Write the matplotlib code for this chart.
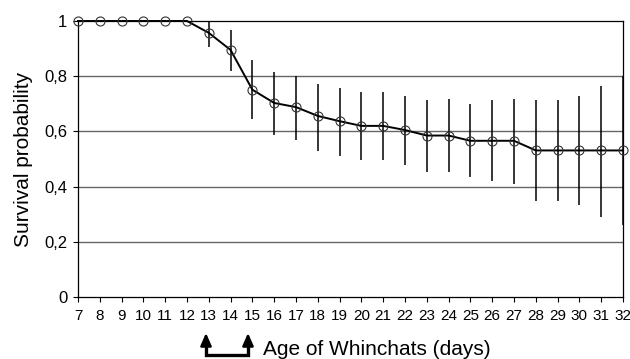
import matplotlib
matplotlib.use("Agg")
import matplotlib.pyplot as plt
from matplotlib.lines import Line2D

plt.rcParams['font.family'] = ['Liberation Sans', 'DejaVu Sans']

days = [7, 8, 9, 10, 11, 12, 13, 14, 15, 16, 17, 18, 19, 20, 21, 22, 23, 24, 25, 26, 27, 28, 29, 30, 31, 32]
survival = [1.0, 1.0, 1.0, 1.0, 1.0, 1.0, 0.957, 0.895, 0.751, 0.703, 0.688, 0.656, 0.637,
            0.620, 0.620, 0.605, 0.585, 0.585, 0.566, 0.566, 0.566, 0.531, 0.531, 0.531, 0.531, 0.531]
err_days = [13, 14, 15, 16, 17, 18, 19, 20, 21, 22, 23, 24, 25, 26, 27, 28, 29, 30, 31, 32]
upper = [1.0, 0.966, 0.859, 0.817, 0.799, 0.771, 0.757, 0.743, 0.743, 0.729, 0.712, 0.716,
         0.700, 0.712, 0.718, 0.714, 0.714, 0.729, 0.765, 0.799]
lower = [0.905, 0.82, 0.645, 0.588, 0.570, 0.530, 0.510, 0.495, 0.495, 0.477, 0.454, 0.454,
         0.434, 0.419, 0.408, 0.347, 0.347, 0.333, 0.289, 0.260]
yticks = [0, 0.2, 0.4, 0.6, 0.8, 1.0]
ytick_labels = ['0', '0,2', '0,4', '0,6', '0,8', '1']

W, H = 630, 359
fig = plt.figure(figsize=(W / 100, H / 100), dpi=100)
ax = fig.add_axes([78 / W, 1 - 297 / H, (623 - 78) / W, (297 - 21) / H])

for y in yticks[1:-1]:
    ax.axhline(y, color='#666666', lw=1.0, zorder=1)

ax.vlines(err_days, lower, upper, color='black', lw=1.1, zorder=2, clip_on=False)
ax.plot(days, survival, color='black', lw=1.4, zorder=3, clip_on=False)
ax.plot(days, survival, linestyle='none', marker='o', ms=6.5, mfc='none',
        mec='#333333', mew=0.8, zorder=4, clip_on=False)

ax.set_xlim(7, 32)
ax.set_ylim(0, 1)
ax.set_xticks(days)
ax.set_xticklabels([str(d) for d in days], fontsize=11)
ax.set_yticks(yticks)
ax.set_yticklabels(ytick_labels, fontsize=12)
ax.tick_params(axis='x', direction='out', length=3.6, width=0.8, pad=5)
ax.tick_params(axis='y', direction='out', length=3.6, width=0.8, pad=4)
for s in ax.spines.values():
    s.set_linewidth(0.9)
    s.set_color('black')

ax.set_ylabel('Survival probability', fontsize=15, labelpad=8)

fig.text(263 / W, 1 - 355 / H, 'Age of Whinchats (days)', fontsize=15,
         ha='left', va='baseline')

# bracket with arrows under days 13-15
xl, xr = 206 / W, 248 / W
ytop, ybot = 1 - 333 / H, 1 - 355 / H
ymid = 1 - 343 / H
fig.add_artist(Line2D([xl, xl, xr, xr], [ymid, ybot, ybot, ymid],
                      transform=fig.transFigure, color='black', lw=2.4,
                      solid_joinstyle='miter'))
for x in (xl, xr):
    fig.add_artist(matplotlib.patches.FancyArrowPatch(
        (x, ymid + 0.001), (x, ytop), transform=fig.transFigure,
        arrowstyle='-|>,head_length=0.5,head_width=0.22', mutation_scale=15,
        color='black', lw=1.8, shrinkA=0, shrinkB=0))

fig.savefig('out.png', dpi=100)
